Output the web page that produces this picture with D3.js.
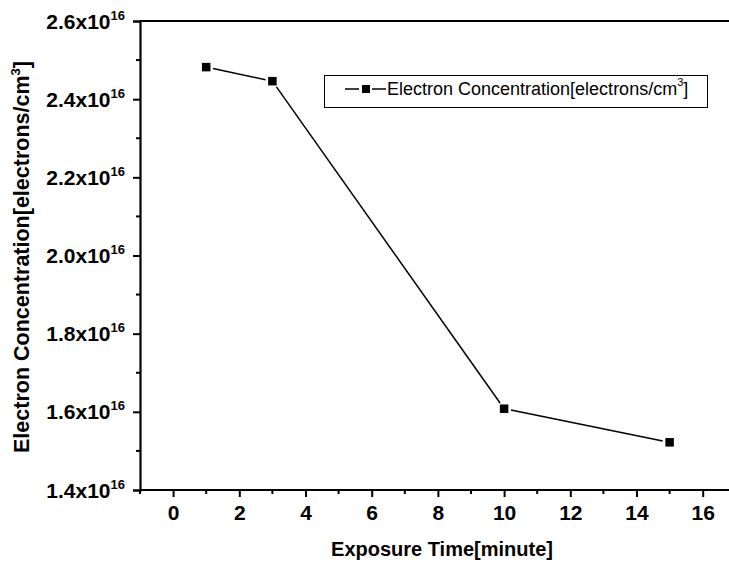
<!DOCTYPE html>
<html>
  <head>
    <script src="https://d3js.org/d3.v7.min.js"></script>
    <style>
      body { margin: 0; background: #fff; }
      svg { display: block; font-family: Arial, "Liberation Sans", sans-serif; }
    </style>
  </head>
  <body>
    <svg></svg>
    <script>
      // exposure time (minutes) and electron concentration (x1e16 electrons/cm3)
      const times = [1, 3, 10, 15];
      const concentration = [2.482, 2.446, 1.608, 1.522];
      const xTicks = [0, 2, 4, 6, 8, 10, 12, 14, 16];
      const yTicks = [1.4, 1.6, 1.8, 2.0, 2.2, 2.4, 2.6];
      const seriesName = 'Electron Concentration[electrons/cm';

      const svg = d3.select('svg')
        .attr('width', 729)
        .attr('height', 566)
        .style('overflow', 'hidden');

      const margin = { top: 21, left: 140 };
      const innerHeight = 469;

      const xScale = d3.scaleLinear()
        .domain([-1, 17])
        .range([margin.left, margin.left + 18 * 33.1]);

      const yScale = d3.scaleLinear()
        .domain([1.4, 2.6])
        .range([margin.top + innerHeight, margin.top]);

      const minorX = d3.range(-1, 18, 1).filter(v => v % 2 !== 0 && xScale(v) < 729);
      const minorY = d3.range(1.5, 2.6, 0.2);

      // x axis
      const xAxisG = svg.append('g')
        .attr('transform', `translate(0,${yScale(1.4)})`)
        .call(d3.axisBottom(xScale).tickValues(xTicks).tickSize(7).tickPadding(8).tickFormat(d3.format('d')));
      xAxisG.select('.domain').attr('stroke-width', 2.2).attr('d', `M${xScale(-1)},0H729`);
      xAxisG.selectAll('.tick line').attr('stroke-width', 2);
      xAxisG.selectAll('.tick text')
        .attr('font-size', 21).attr('font-weight', 'bold').attr('font-family', 'Arial, Liberation Sans, sans-serif');
      xAxisG.selectAll('.minor').data(minorX).enter().append('line')
        .attr('class', 'minor')
        .attr('x1', d => xScale(d)).attr('x2', d => xScale(d))
        .attr('y1', 0).attr('y2', 4)
        .attr('stroke', '#000').attr('stroke-width', 2);

      // top border
      svg.append('line')
        .attr('x1', xScale(-1)).attr('x2', 729)
        .attr('y1', yScale(2.6)).attr('y2', yScale(2.6))
        .attr('stroke', '#000').attr('stroke-width', 2.2);

      // y axis
      const yAxisG = svg.append('g')
        .attr('transform', `translate(${xScale(-1)},0)`)
        .call(d3.axisLeft(yScale).tickValues(yTicks).tickSize(7).tickFormat(''));
      yAxisG.selectAll('.tick text').remove();
      yAxisG.select('.domain').attr('stroke-width', 2.2);
      yAxisG.selectAll('.tick line').attr('stroke-width', 2);
      yAxisG.selectAll('.minor').data(minorY).enter().append('line')
        .attr('class', 'minor')
        .attr('x1', 0).attr('x2', -4)
        .attr('y1', d => yScale(d)).attr('y2', d => yScale(d))
        .attr('stroke', '#000').attr('stroke-width', 2);

      const yLabels = yAxisG.selectAll('.ylab').data(yTicks).enter().append('text')
        .attr('class', 'ylab')
        .attr('x', -15)
        .attr('y', d => yScale(d) + 7.5)
        .attr('text-anchor', 'end')
        .attr('font-size', 21)
        .attr('font-weight', 'bold')
        .attr('fill', '#000');
      yLabels.append('tspan').text(d => d.toFixed(1) + 'x10');
      yLabels.append('tspan').attr('dy', -9).attr('font-size', 13).text('16');

      // axis titles
      svg.append('text')
        .attr('x', 442)
        .attr('y', 556)
        .attr('text-anchor', 'middle')
        .attr('font-size', 20)
        .attr('font-weight', 'bold')
        .text('Exposure Time[minute]');

      const yTitle = svg.append('text')
        .attr('transform', `translate(29,257) rotate(-90)`)
        .attr('text-anchor', 'middle')
        .attr('font-size', 21.5)
        .attr('font-weight', 'bold');
      yTitle.append('tspan').text(seriesName);
      yTitle.append('tspan').attr('dy', -9).attr('font-size', 13).text('3');
      yTitle.append('tspan').attr('dy', 9).text(']');

      // series line with gaps at the markers
      const pts = times.map((t, i) => [xScale(t), yScale(concentration[i])]);
      const gap = 7;
      d3.pairs(pts).forEach(([a, b]) => {
        const dx = b[0] - a[0], dy = b[1] - a[1];
        const len = Math.hypot(dx, dy);
        const ux = dx / len, uy = dy / len;
        svg.append('line')
          .attr('x1', a[0] + ux * gap).attr('y1', a[1] + uy * gap)
          .attr('x2', b[0] - ux * gap).attr('y2', b[1] - uy * gap)
          .attr('stroke', '#000').attr('stroke-width', 1.5);
      });

      const ms = 8.5;
      svg.selectAll('.marker').data(times).enter().append('rect')
        .attr('class', 'marker')
        .attr('x', (d, i) => xScale(d) - ms / 2)
        .attr('y', (d, i) => yScale(concentration[i]) - ms / 2)
        .attr('width', ms).attr('height', ms)
        .attr('fill', '#000');

      // legend
      const lg = svg.append('g');
      lg.append('rect')
        .attr('x', 324.5).attr('y', 75.5)
        .attr('width', 383).attr('height', 32)
        .attr('fill', '#fff').attr('stroke', '#000').attr('stroke-width', 1);
      lg.append('line').attr('x1', 345).attr('x2', 359).attr('y1', 89).attr('y2', 89)
        .attr('stroke', '#000').attr('stroke-width', 1.5);
      lg.append('line').attr('x1', 372).attr('x2', 386).attr('y1', 89).attr('y2', 89)
        .attr('stroke', '#000').attr('stroke-width', 1.5);
      lg.append('rect').attr('x', 362).attr('y', 85).attr('width', 8).attr('height', 8)
        .attr('fill', '#000');
      const lt = lg.append('text')
        .attr('x', 387).attr('y', 95)
        .attr('font-size', 18);
      lt.append('tspan').text(seriesName);
      lt.append('tspan').attr('dy', -9).attr('font-size', 11).text('3');
      lt.append('tspan').attr('dy', 9).text(']');
    </script>
  </body>
</html>
